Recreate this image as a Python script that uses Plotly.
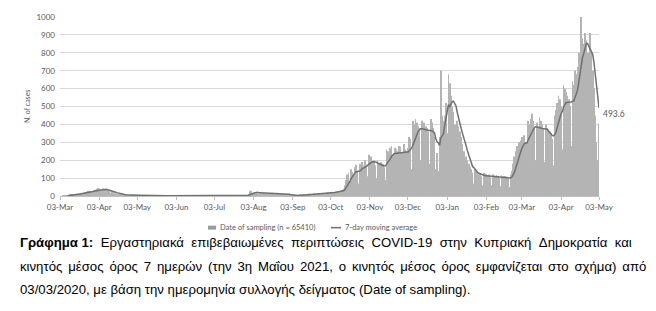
import pandas as pd
import plotly.graph_objects as go

# ---------------- data (daily cases by date of sampling) ----------------
start_date = "2020-03-03"
cases_2020_03 = [0, 0, 1, 1, 2, 1, 3, 4, 6, 7, 9, 8, 5, 12, 14, 13, 16, 18, 15, 10,
                 22, 25, 28, 30, 27, 26, 18, 34, 36]
cases_2020_04 = [40, 44, 42, 38, 28, 42, 38, 36, 33, 30, 26, 18, 24, 20, 17, 14, 12, 10, 6,
                 9, 8, 7, 6, 6, 5, 3, 5, 4, 5, 4]
cases_2020_05 = [4, 3, 2, 5, 4, 3, 3, 2, 1, 3, 4, 2, 3, 2, 1, 2, 3, 2, 2, 1, 1, 2, 3, 2, 1, 1,
                 2, 1, 2, 1, 1]
cases_2020_06 = [1, 0, 2, 3, 1, 2, 1, 0, 1, 2, 4, 1, 1, 0, 2, 1, 3, 2, 1, 0, 1, 2, 1, 0, 1, 2,
                 1, 0, 1, 2]
cases_2020_07 = [1, 2, 3, 1, 0, 2, 1, 2, 3, 1, 2, 1, 0, 2, 3, 2, 1, 2, 3, 1, 0, 2, 3, 4, 2, 1,
                 3, 5, 4, 8, 26]
cases_2020_08 = [30, 15, 18, 22, 20, 16, 14, 18, 12, 16, 20, 17, 15, 14, 12, 10, 16, 18, 14,
                 13, 12, 10, 9, 14, 15, 13, 11, 10, 8, 5, 7]
cases_2020_09 = [4, 3, 2, 3, 4, 2, 3, 5, 6, 4, 8, 7, 5, 9, 10, 12, 9, 11, 8, 14, 12, 10, 15,
                 13, 12, 16, 11, 14, 15, 18]
cases_2020_10 = [20, 18, 22, 12, 24, 20, 26, 28, 25, 30, 18, 35, 40, 60, 90, 120, 130, 80,
                 150, 135, 120, 160, 175, 140, 70, 180, 165, 190, 170, 200, 175]
cases_2020_11 = [110, 230, 210, 220, 190, 200, 170, 100, 200, 185, 170, 190, 180, 160, 90,
                 260, 250, 240, 270, 280, 230, 120, 270, 260, 250, 280, 275, 240, 130, 290]
cases_2020_12 = [260, 250, 270, 330, 320, 150, 420, 400, 430, 410, 390, 380, 200, 420, 400,
                 410, 390, 380, 360, 180, 430, 410, 380, 330, 150, 240, 140, 330, 700, 450, 420]
cases_2021_01 = [450, 520, 350, 680, 630, 560, 500, 470, 400, 280, 420, 390, 360, 330, 290,
                 250, 120, 220, 200, 180, 160, 150, 130, 70, 150, 140, 130, 120, 125, 110, 60]
cases_2021_02 = [130, 120, 125, 115, 120, 105, 60, 120, 115, 110, 118, 112, 100, 55, 115, 110,
                 105, 112, 108, 95, 50, 120, 140, 180, 220, 250, 280, 170]
cases_2021_03 = [300, 310, 330, 320, 340, 300, 170, 420, 400, 430, 460, 420, 380, 200, 410,
                 390, 440, 420, 400, 380, 190, 400, 380, 370, 360, 350, 320, 170, 450, 480, 520]
cases_2021_04 = [560, 540, 500, 260, 620, 600, 580, 560, 540, 500, 280, 640, 620, 700, 680,
                 720, 800, 650, 1000, 880, 850, 910, 870, 800, 550, 910, 800, 700, 600, 450]
cases_2021_05 = [300, 200, 405]

tick_dates = ["2020-03-03", "2020-04-03", "2020-05-03", "2020-06-03", "2020-07-03",
              "2020-08-03", "2020-09-03", "2020-10-03", "2020-11-03", "2020-12-03",
              "2021-01-03", "2021-02-03", "2021-03-03", "2021-04-03", "2021-05-03"]
tick_labels = ["03-Mar", "03-Apr", "03-May", "03-Jun", "03-Jul", "03-Aug", "03-Sep",
               "03-Oct", "03-Nov", "03-Dec", "03-Jan", "03-Feb", "03-Mar", "03-Apr", "03-May"]
y_ticks = [0, 100, 200, 300, 400, 500, 600, 700, 800, 900, 1000]

bar_name = "Date of sampling (n = 65410)"
line_name = "7-day moving average"
y_title = "N. of cases"
caption_lines = [
    "<b>Γράφημα 1:</b> Εργαστηριακά επιβεβαιωμένες περιπτώσεις COVID-19 στην Κυπριακή Δημοκρατία και",
    "κινητός μέσος όρος 7 ημερών (την 3η Μαΐου 2021, ο κινητός μέσος όρος εμφανίζεται στο σχήμα) από",
    "03/03/2020, με βάση την ημερομηνία συλλογής δείγματος (Date of sampling).",
]
# extra spacing so the two justified lines reach the right margin
caption_space = ["\u00a0\u2009\u200a", " \u200a\u200a", " "]

# ---------------- build ----------------
cases = (cases_2020_03 + cases_2020_04 + cases_2020_05 + cases_2020_06 + cases_2020_07 +
         cases_2020_08 + cases_2020_09 + cases_2020_10 + cases_2020_11 + cases_2020_12 +
         cases_2021_01 + cases_2021_02 + cases_2021_03 + cases_2021_04 + cases_2021_05)
dates = pd.date_range(start_date, periods=len(cases), freq="D")
ma7 = pd.Series(cases).rolling(7).mean()

W, H = 656, 311
L, R, T, B = 60, 57, 15, 115
pw, ph = W - L - R, H - T - B

def px_x(p):
    return (p - L) / pw

def px_y(p):
    return (H - B - p) / ph

chart_font = "Lato, 'Open Sans', sans-serif"
txt_grey = "#595959"
bar_color = "#b4b4b4"
line_color = "#707070"

fig = go.Figure()
fig.add_trace(go.Bar(x=dates, y=cases, name=bar_name, marker_color=bar_color,
                     marker_line_width=0, showlegend=False))
fig.add_trace(go.Scatter(x=dates, y=ma7, name=line_name, mode="lines",
                         line=dict(color=line_color, width=1.5), showlegend=False))

# end-value label
fig.add_annotation(x=dates[-1], y=ma7.iloc[-1], text=f"{ma7.iloc[-1]:.1f}",
                   showarrow=False, xanchor="left", yanchor="middle", xshift=2, yshift=-6,
                   font=dict(family=chart_font, size=8.5, color=txt_grey))

# y-axis title
fig.add_annotation(xref="paper", yref="paper", x=px_x(27), y=px_y(106), text=y_title,
                   textangle=-90, showarrow=False, xanchor="center", yanchor="middle",
                   font=dict(family=chart_font, size=7, color=txt_grey))

# legend (drawn manually for compact spacing)
leg_y = 228
fig.add_shape(type="rect", xref="paper", yref="paper",
              x0=px_x(208), x1=px_x(216), y0=px_y(leg_y + 2), y1=px_y(leg_y - 2),
              fillcolor="#9a9a9a", line_width=0)
fig.add_annotation(xref="paper", yref="paper", x=px_x(218), y=px_y(leg_y), text=bar_name,
                   showarrow=False, xanchor="left", yanchor="middle",
                   font=dict(family=chart_font, size=7.5, color=txt_grey))
fig.add_shape(type="line", xref="paper", yref="paper",
              x0=px_x(331), x1=px_x(341), y0=px_y(leg_y), y1=px_y(leg_y),
              line=dict(color=line_color, width=1.5))
fig.add_annotation(xref="paper", yref="paper", x=px_x(343), y=px_y(leg_y), text=line_name,
                   showarrow=False, xanchor="left", yanchor="middle",
                   font=dict(family=chart_font, size=7.5, color=txt_grey))

# caption
for i, line in enumerate(caption_lines):
    text = line.replace(" ", caption_space[i]).replace("<b>Γράφημα" + caption_space[i], "<b>Γράφημα ")
    fig.add_annotation(xref="paper", yref="paper", x=px_x(18), y=px_y(243 + i * 24),
                       text=text, showarrow=False, xanchor="left", yanchor="middle",
                       font=dict(family="'Liberation Sans', Arial, sans-serif", size=13.2,
                                 color="#000000"))

fig.update_layout(
    width=W, height=H,
    margin=dict(l=L, r=R, t=T, b=B),
    paper_bgcolor="white", plot_bgcolor="white",
    bargap=0.35,
    showlegend=False,
    font=dict(family=chart_font, color=txt_grey),
)
fig.update_xaxes(type="date", range=[tick_dates[0], tick_dates[-1]],
                 tickvals=tick_dates, ticktext=tick_labels, tickangle=0,
                 tickfont=dict(size=8, color=txt_grey),
                 showgrid=False, showline=True, linecolor="#bfbfbf", linewidth=1,
                 ticks="outside", ticklen=3, tickcolor="#bfbfbf", zeroline=False)
fig.update_yaxes(range=[0, 1000], tickvals=y_ticks,
                 tickfont=dict(size=8, color=txt_grey),
                 showgrid=True, gridcolor="#d9d9d9", gridwidth=1, zeroline=False,
                 ticks="", ticklabelstandoff=4)

fig.write_html("out.html")
